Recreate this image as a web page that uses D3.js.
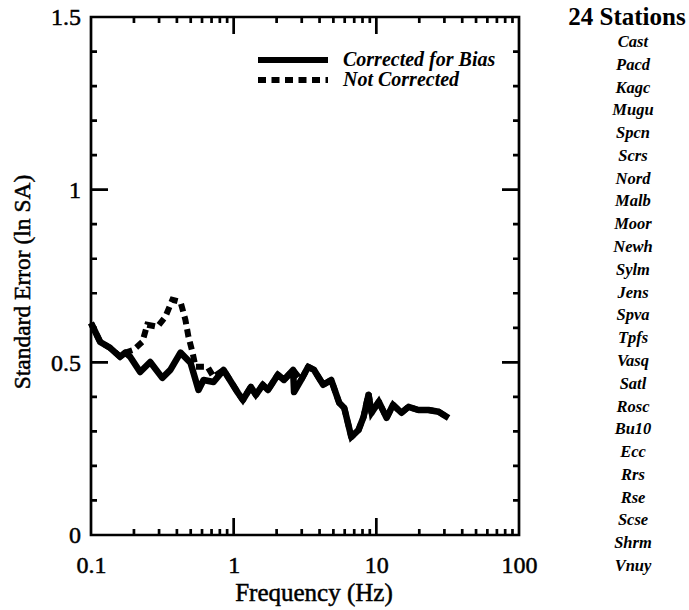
<!DOCTYPE html>
<html>
<head>
<meta charset="utf-8">
<script src="https://cdn.jsdelivr.net/npm/d3@7"></script>
<style>
  body { margin: 0; background: #fff; }
  svg { display: block; font-family: "Liberation Serif", "Times New Roman", serif; }
  .ink { stroke: #000; stroke-width: 0.5px; }
</style>
</head>
<body>
<script>
// values
const freqCorrected = [0.1, 0.116, 0.136, 0.16, 0.174, 0.188, 0.221, 0.26, 0.316, 0.36, 0.424, 0.498,
  0.567, 0.615, 0.723, 0.85, 1.07, 1.16, 1.32, 1.43, 1.6, 1.74, 2.04, 2.25, 2.61, 2.65, 2.97, 3.33,
  3.66, 4.24, 4.83, 5.49, 5.96, 6.68, 7.5, 8.14, 8.82, 9.26, 10.4, 11.8, 13.1, 15.0, 16.8, 19.7,
  23.2, 27.3, 32.1];
const errCorrected = [0.614, 0.559, 0.542, 0.516, 0.528, 0.516, 0.472, 0.501, 0.455, 0.478, 0.528, 0.499,
  0.42, 0.449, 0.443, 0.478, 0.412, 0.391, 0.429, 0.406, 0.435, 0.42, 0.464, 0.449, 0.478, 0.414, 0.449, 0.487,
  0.478, 0.435, 0.449, 0.383, 0.368, 0.284, 0.304, 0.342, 0.406, 0.354, 0.386, 0.339, 0.377, 0.354, 0.371, 0.362,
  0.362, 0.357, 0.339];

const freqNotCorrected = [0.1, 0.116, 0.136, 0.16, 0.174, 0.198, 0.229, 0.248, 0.292, 0.332, 0.372, 0.424,
  0.459, 0.482, 0.515, 0.541, 0.656, 0.723, 0.85, 1.07, 1.16, 1.32, 1.43, 1.6, 1.74, 2.04, 2.25, 2.61,
  2.97, 3.33, 3.66, 4.24, 4.83, 5.49, 5.96, 6.68, 7.5, 8.14, 8.82, 9.26, 10.4, 11.8, 13.1, 15.0, 16.8,
  19.7, 23.2, 27.3, 32.1];
const errNotCorrected = [0.614, 0.559, 0.542, 0.516, 0.528, 0.536, 0.559, 0.609, 0.603, 0.632, 0.681, 0.675,
  0.623, 0.574, 0.528, 0.487, 0.487, 0.458, 0.478, 0.412, 0.391, 0.429, 0.406, 0.435, 0.42, 0.464, 0.449, 0.478,
  0.449, 0.487, 0.478, 0.435, 0.449, 0.383, 0.368, 0.284, 0.304, 0.342, 0.41, 0.354, 0.386, 0.339, 0.377, 0.354,
  0.371, 0.362, 0.362, 0.357, 0.339];

const stations = ["Cast", "Pacd", "Kagc", "Mugu", "Spcn", "Scrs", "Nord", "Malb", "Moor", "Newh", "Sylm",
  "Jens", "Spva", "Tpfs", "Vasq", "Satl", "Rosc", "Bu10", "Ecc", "Rrs", "Rse", "Scse", "Shrm", "Vnuy"];

const xMajor = [0.1, 1, 10, 100];
const xLabels = ["0.1", "1", "10", "100"];
const yMajor = [0, 0.5, 1, 1.5];
const yLabels = ["0", "0.5", "1", "1.5"];

const width = 689, height = 610;
const plot = { left: 91, right: 519, top: 17, bottom: 535 };

const svg = d3.select("body").append("svg")
  .attr("width", width)
  .attr("height", height);

const x = d3.scaleLog().domain([0.1, 100]).range([plot.left, plot.right]);
const y = d3.scaleLinear().domain([0, 1.5]).range([plot.bottom, plot.top]);

// minor ticks 2..9 in every decade, 0.1 steps on y
const xMinor = [];
[0.1, 1, 10].forEach(d => { for (let k = 2; k <= 9; k++) xMinor.push(+(d * k).toPrecision(2)); });
const yMinor = d3.range(1, 15).map(i => +(i / 10).toFixed(1)).filter(v => v !== 0.5 && v !== 1);

const xTicks = xMinor.map(v => ({ v: v, len: 6 })).concat([1, 10].map(v => ({ v: v, len: 17 })));
const yTicks = yMinor.map(v => ({ v: v, len: 6 })).concat([0.5, 1].map(v => ({ v: v, len: 17 })));

// frame and inward ticks on all four sides as one path
const p = d3.path();
p.rect(plot.left, plot.top, plot.right - plot.left, plot.bottom - plot.top);
xTicks.forEach(t => {
  const px = x(t.v);
  p.moveTo(px, plot.bottom); p.lineTo(px, plot.bottom - t.len);
  p.moveTo(px, plot.top); p.lineTo(px, plot.top + t.len);
});
yTicks.forEach(t => {
  const py = y(t.v);
  p.moveTo(plot.left, py); p.lineTo(plot.left + t.len, py);
  p.moveTo(plot.right, py); p.lineTo(plot.right - t.len, py);
});
svg.append("path")
  .attr("d", p.toString())
  .attr("fill", "none")
  .attr("stroke", "#000")
  .attr("stroke-width", 2.7);

// tick labels
const yl = svg.append("g")
  .attr("transform", `translate(${plot.left},0)`)
  .call(d3.axisLeft(y).tickValues(yMajor).tickSize(0).tickPadding(10)
    .tickFormat((d, i) => yLabels[i]));
yl.select(".domain").remove();
yl.selectAll("text").attr("class", "ink").attr("font-size", 24)
  .attr("font-family", "Liberation Serif").attr("fill", "#000");

const xl = svg.append("g")
  .attr("transform", `translate(0,${plot.bottom})`)
  .call(d3.axisBottom(x).tickValues(xMajor).tickSize(0).tickPadding(21)
    .tickFormat((d, i) => xLabels[i]));
xl.select(".domain").remove();
xl.selectAll("text").attr("class", "ink").attr("font-size", 24)
  .attr("font-family", "Liberation Serif").attr("fill", "#000");

// axis titles
svg.append("text")
  .attr("class", "ink")
  .attr("x", (plot.left + plot.right) / 2 + 9).attr("y", 601)
  .attr("text-anchor", "middle")
  .attr("font-size", 25)
  .text("Frequency (Hz)");

svg.append("text")
  .attr("class", "ink")
  .attr("transform", `translate(30,${(plot.top + plot.bottom) / 2 + 6}) rotate(-90)`)
  .attr("text-anchor", "middle")
  .attr("font-size", 23.5)
  .text("Standard Error (ln SA)");

// curves
const line = d3.line()
  .x(d => x(d[0]))
  .y(d => y(d[1]));

svg.append("path")
  .datum(d3.zip(freqNotCorrected, errNotCorrected))
  .attr("d", line)
  .attr("fill", "none")
  .attr("stroke", "#000")
  .attr("stroke-width", 6)
  .attr("stroke-dasharray", "8,5");

svg.append("path")
  .datum(d3.zip(freqCorrected, errCorrected))
  .attr("d", line)
  .attr("fill", "none")
  .attr("stroke", "#000")
  .attr("stroke-width", 6.5)
  .attr("stroke-linejoin", "round");

// legend
const legend = [
  { label: "Corrected for Bias", dash: null, y: 60 },
  { label: "Not Corrected", dash: "8,5.5", y: 80 }
];
legend.forEach(l => {
  svg.append("line")
    .attr("x1", 258).attr("x2", 328)
    .attr("y1", l.y).attr("y2", l.y)
    .attr("stroke", "#000").attr("stroke-width", 6)
    .attr("stroke-dasharray", l.dash);
  svg.append("text")
    .attr("x", 343).attr("y", l.y + 6)
    .attr("font-size", 20)
    .attr("font-style", "italic")
    .attr("font-weight", "bold")
    .text(l.label);
});

// station list
svg.append("text")
  .attr("x", 627).attr("y", 25)
  .attr("text-anchor", "middle")
  .attr("font-size", 25)
  .attr("font-weight", "bold")
  .text("24 Stations");

const sy = d3.scalePoint().domain(stations).range([42, 566]);
svg.append("g").selectAll("text")
  .data(stations)
  .enter().append("text")
  .attr("x", 633)
  .attr("y", d => sy(d) + 5)
  .attr("text-anchor", "middle")
  .attr("font-size", 16.5)
  .attr("font-style", "italic")
  .attr("font-weight", "bold")
  .text(d => d);
</script>
</body>
</html>
